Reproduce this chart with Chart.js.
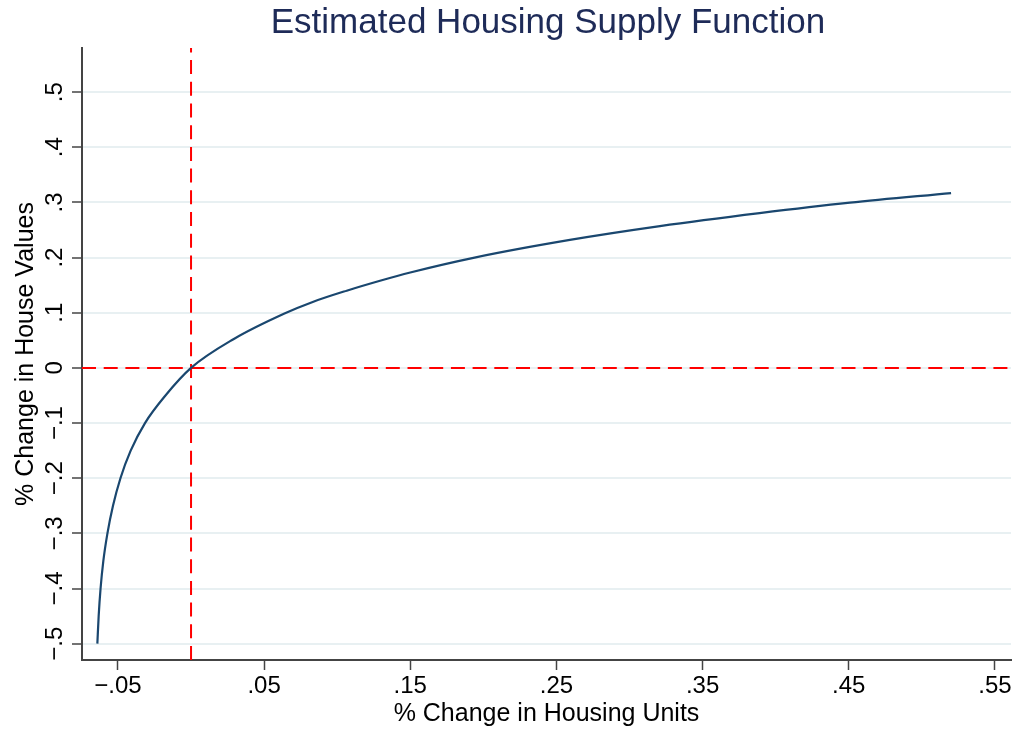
<!DOCTYPE html>
<html><head><meta charset="utf-8">
<script src="https://cdn.jsdelivr.net/npm/chart.js@4.4.1/dist/chart.umd.min.js"></script>
<style>html,body{margin:0;padding:0;background:#fff}#wrap{width:1018px;height:732px}</style>
</head><body><div id="wrap"><canvas id="c" width="1018" height="732"></canvas></div>
<script>
const TITLE = 'Estimated Housing Supply Function';
const X_TITLE = '% Change in Housing Units';
const Y_TITLE = '% Change in House Values';
const housingUnits = [-0.0641, -0.0632, -0.0619, -0.0600, -0.0572, -0.0534, -0.0483, -0.0413, -0.0315, -0.0175, 0, 0.029, 0.0643, 0.0837, 0.1065, 0.1293, 0.150, 0.194, 0.2592, 0.3208, 0.389, 0.4508, 0.520];
const houseValues  = [-0.500, -0.450, -0.400, -0.350, -0.300, -0.250, -0.200, -0.150, -0.100, -0.050, 0, 0.052, 0.099, 0.120, 0.140, 0.158, 0.173, 0.200, 0.232, 0.257, 0.2805, 0.2995, 0.317];
const xTicks = [-0.05, 0.05, 0.15, 0.25, 0.35, 0.45, 0.55];
const yTicks = [-0.5, -0.4, -0.3, -0.2, -0.1, 0, 0.1, 0.2, 0.3, 0.4, 0.5];
const refX = [0];
const refY = [0];

function fmt(v) {
  if (Math.abs(v) < 1e-9) return '0';
  const s = String(Math.round(Math.abs(v) * 100) / 100).replace(/^0\./, '.');
  return (v < 0 ? '\u2212' : '') + s;
}

const FONT = '"Liberation Sans", Arial, sans-serif';

const refLines = {
  id: 'refLines',
  beforeDatasetsDraw(chart) {
    const {ctx, chartArea: a, scales: {x, y}} = chart;
    ctx.save();
    ctx.strokeStyle = '#ff0000';
    ctx.lineWidth = 2;
    ctx.setLineDash([14, 7.7]);
    refX.forEach(v => {
      const px = x.getPixelForValue(v);
      ctx.beginPath(); ctx.moveTo(px, a.bottom); ctx.lineTo(px, a.top); ctx.stroke();
    });
    refY.forEach(v => {
      const py = y.getPixelForValue(v);
      ctx.beginPath(); ctx.moveTo(a.left, py); ctx.lineTo(a.right, py); ctx.stroke();
    });
    ctx.restore();
  }
};

const texts = {
  id: 'texts',
  afterDraw(chart) {
    const {ctx, chartArea: a, scales: {x, y}} = chart;
    ctx.save();
    ctx.textBaseline = 'alphabetic';
    ctx.fillStyle = '#1e2b58';
    ctx.font = '35px ' + FONT;
    ctx.textAlign = 'center';
    ctx.fillText(TITLE, 548, 33);
    ctx.fillStyle = '#000';
    ctx.font = '24px ' + FONT;
    xTicks.forEach(v => ctx.fillText(fmt(v), x.getPixelForValue(v), 693));
    ctx.font = '25px ' + FONT;
    ctx.fillText(X_TITLE, (a.left + a.right) / 2, 721);
    ctx.font = '24px ' + FONT;
    yTicks.forEach(v => {
      ctx.save();
      ctx.translate(62, y.getPixelForValue(v));
      ctx.rotate(-Math.PI / 2);
      ctx.fillText(fmt(v), 0, 0);
      ctx.restore();
    });
    ctx.font = '25px ' + FONT;
    ctx.save();
    ctx.translate(33, (a.top + a.bottom) / 2);
    ctx.rotate(-Math.PI / 2);
    ctx.fillText(Y_TITLE, 0, 0);
    ctx.restore();
    ctx.restore();
  }
};

new Chart(document.getElementById('c'), {
  type: 'scatter',
  data: {
    datasets: [{
      data: housingUnits.map((v, i) => ({x: v, y: houseValues[i]})),
      showLine: true,
      borderColor: '#1a476f',
      borderWidth: 2.2,
      pointRadius: 0,
      cubicInterpolationMode: 'monotone',
      fill: false
    }]
  },
  options: {
    responsive: false,
    animation: false,
    devicePixelRatio: 1,
    layout: {padding: {top: 48, right: 7, left: 0, bottom: 0}},
    plugins: {legend: {display: false}, tooltip: {enabled: false}, title: {display: false}},
    scales: {
      x: {
        type: 'linear', min: -0.0746, max: 0.561,
        afterBuildTicks: s => { s.ticks = xTicks.map(v => ({value: v})); },
        afterFit: s => { s.height = 72; },
        ticks: {display: false},
        grid: {drawOnChartArea: false, drawTicks: true, tickLength: 10, tickColor: '#444', tickWidth: 1.5},
        border: {display: true, color: '#444', width: 2}
      },
      y: {
        type: 'linear', min: -0.5296, max: 0.580,
        afterBuildTicks: s => { s.ticks = yTicks.map(v => ({value: v})); },
        afterFit: s => { s.width = 82; },
        ticks: {display: false},
        grid: {color: '#e8f0f2', lineWidth: 2, drawTicks: true, tickLength: 10, tickColor: '#444', tickWidth: 1.5},
        border: {display: true, color: '#444', width: 2}
      }
    }
  },
  plugins: [refLines, texts]
});
</script>
</body></html>
